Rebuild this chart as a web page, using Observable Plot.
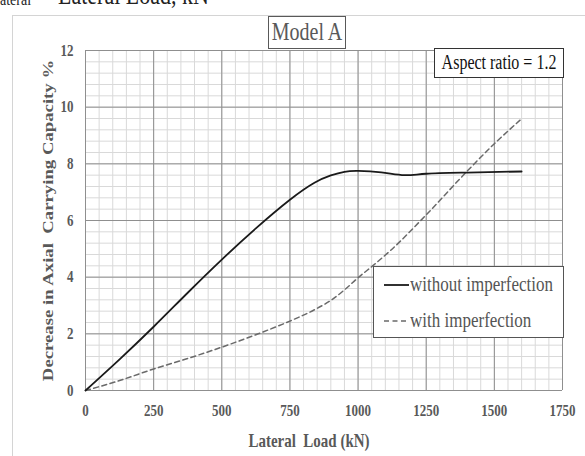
<!DOCTYPE html>
<html>
<head>
<meta charset="utf-8">
<script src="https://cdn.jsdelivr.net/npm/d3@7"></script>
<script src="https://cdn.jsdelivr.net/npm/@observablehq/plot@0.6"></script>
<style>
  html, body { margin: 0; padding: 0; background: #fff; }
  #wrap { position: relative; width: 585px; height: 456px; overflow: hidden; font-family: "Liberation Serif", "Times New Roman", serif; }
  #wrap svg { position: absolute; left: 0; top: 0; }
  .ov { position: absolute; white-space: nowrap; }
  .st { display: inline-block; transform: scaleY(1.25); transform-origin: 50% 55%; }
</style>
</head>
<body>
<div id="wrap">
  <div class="ov" style="left:12px;top:15px;width:640px;height:520px;border:1px solid #d4d4d4;"></div>
  <div class="ov" style="left:0;top:-7px;font-size:14px;line-height:14px;color:#222;"><span class="st">ateral</span></div>
  <div class="ov" style="left:58px;top:-15px;font-size:22px;line-height:22px;color:#222;"><span class="st">Lateral Load, kN</span></div>
</div>
<script>
// Data
const loads = [0, 125, 250, 375, 500, 625, 750, 840, 900, 950, 1000, 1085, 1170, 1250, 1400, 1600];
const withoutImperfection = [0, 1.1, 2.25, 3.45, 4.62, 5.72, 6.73, 7.33, 7.59, 7.72, 7.75, 7.70, 7.60, 7.65, 7.69, 7.73];
const loadsImp = [0, 125, 250, 375, 500, 625, 750, 840, 900, 950, 1000, 1060, 1120, 1250, 1400, 1500, 1600];
const withImperfection = [0, 0.35, 0.76, 1.13, 1.53, 1.97, 2.45, 2.85, 3.18, 3.55, 3.98, 4.45, 4.95, 6.2, 7.74, 8.71, 9.59];
const xTicks = [0, 250, 500, 750, 1000, 1250, 1500, 1750];
const yTicks = [0, 2, 4, 6, 8, 10, 12];
const seriesNames = ["without imperfection", "with imperfection"];
const titleText = "Model A";
const noteText = "Aspect ratio = 1.2";
const xLabel = "Lateral  Load (kN)";
const yLabel = "Decrease in Axial  Carrying Capacity %";

const solid = loads.map((x, i) => ({x, y: withoutImperfection[i]}));
const dashed = loadsImp.map((x, i) => ({x, y: withImperfection[i]}));
const minorX = d3.range(0, 1751, 50);
const minorY = d3.range(0, 12.01, 0.4).map(v => +v.toFixed(2));

const chart = Plot.plot({
  width: 585,
  height: 456,
  marginLeft: 85,
  marginRight: 23,
  marginTop: 50,
  marginBottom: 66,
  x: {domain: [0, 1750]},
  y: {domain: [0, 12]},
  style: {fontFamily: "'Liberation Serif', 'Times New Roman', serif", fontSize: "13px", fontWeight: "bold", color: "#595959", background: "transparent"},
  marks: [
    Plot.ruleX(minorX, {stroke: "#d9d9d9", strokeWidth: 1}),
    Plot.ruleY(minorY, {stroke: "#d9d9d9", strokeWidth: 1}),
    Plot.ruleX(xTicks, {stroke: "#8f8f8f", strokeWidth: 1}),
    Plot.ruleY(yTicks, {stroke: "#8f8f8f", strokeWidth: 1}),
    Plot.axisX({ticks: xTicks, tickSize: 0, tickPadding: 15, label: null, fontSize: 13, fontWeight: "bold", tickFormat: d => String(d)}),
    Plot.axisY({ticks: yTicks, tickSize: 0, tickPadding: 12, label: null, fontSize: 13, fontWeight: "bold"}),
    Plot.line(dashed, {x: "x", y: "y", curve: "monotone-x", stroke: "#6a6a6a", strokeWidth: 1.5, strokeDasharray: "5,3.5"}),
    Plot.line(solid, {x: "x", y: "y", curve: "natural", stroke: "#1a1a1a", strokeWidth: 1.8}),
    Plot.text([xLabel], {frameAnchor: "bottom", dx: -15, dy: 55, fontSize: 15, fontWeight: "bold", fill: "#595959"}),
    Plot.text([yLabel], {frameAnchor: "left", dx: -37, rotate: -90, textAnchor: "middle", fontSize: 15, fontWeight: "bold", fill: "#595959"})
  ]
});
const wrap = document.getElementById("wrap");
wrap.appendChild(chart);

// The reference is stretched vertically: stretch every SVG text about its own centre.
const SY = 1.25;
chart.querySelectorAll("text").forEach(t => {
  const bb = t.getBBox();
  const m = t.transform.baseVal.consolidate();
  let cx = bb.x + bb.width / 2, cy = bb.y + bb.height / 2;
  if (m) {
    const mm = m.matrix;
    const px = mm.a * cx + mm.c * cy + mm.e;
    const py = mm.b * cx + mm.d * cy + mm.f;
    cx = px; cy = py;
  }
  const g = document.createElementNS("http://www.w3.org/2000/svg", "g");
  g.setAttribute("transform", `translate(${cx},${cy}) scale(1,${SY}) translate(${-cx},${-cy})`);
  t.parentNode.insertBefore(g, t);
  g.appendChild(t);
});

function box(html, style) {
  const d = document.createElement("div");
  d.className = "ov";
  d.setAttribute("style", style);
  d.innerHTML = html;
  wrap.appendChild(d);
  return d;
}
box(`<span class="st">${titleText}</span>`, "left:268px;top:16px;width:76px;height:31px;border:1.5px solid #595959;background:#fff;color:#595959;font-size:20px;line-height:31px;text-align:center;");
box(`<span class="st">${noteText}</span>`, "left:434px;top:48px;width:128px;height:28px;border:1.5px solid #333;background:#fff;color:#111;font-size:16px;line-height:28px;text-align:center;");
const leg = box("", "left:373px;top:266px;width:189px;height:70px;border:1.5px solid #555;background:#fff;color:#555;font-size:17px;");
leg.innerHTML =
  `<svg width="30" height="70" style="position:absolute;left:8px;top:0;">
     <line x1="2" x2="27" y1="18" y2="18" stroke="#1a1a1a" stroke-width="1.8"/>
     <line x1="2" x2="27" y1="54" y2="54" stroke="#6a6a6a" stroke-width="1.5" stroke-dasharray="5,3.5"/>
   </svg>
   <div style="position:absolute;left:36px;top:7px;line-height:22px;"><span class="st">${seriesNames[0]}</span></div>
   <div style="position:absolute;left:36px;top:43px;line-height:22px;"><span class="st">${seriesNames[1]}</span></div>`;
</script>
</body>
</html>
